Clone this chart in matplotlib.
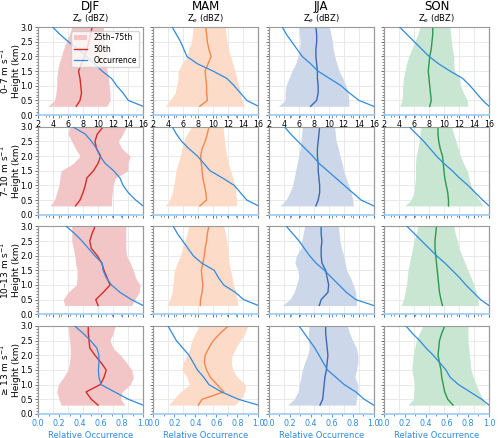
import numpy as np
import matplotlib
matplotlib.use("Agg")
import matplotlib.pyplot as plt
from matplotlib.ticker import MultipleLocator

# heights (km) of the profiles
heights = [0.3, 0.5, 0.75, 1.0, 1.25, 1.5, 1.75, 2.0, 2.25, 2.5, 2.75, 3.0]

seasons = ["DJF", "MAM", "JJA", "SON"]
wind_bins = ["0–7 m s$^{-1}$", "7–10 m s$^{-1}$", "10–13 m s$^{-1}$", "≥ 13 m s$^{-1}$"]

# Ze percentiles (dBZ), indexed [wind bin][season]
p25 = [
    [[3.3, 4.2, 4.4, 4.5, 4.5, 4.6, 4.8, 5.1, 5.4, 5.8, 6.2, 6.5],
     [3.6, 4.2, 4.9, 5.1, 5.3, 5.3, 5.8, 6.5, 6.7, 7.1, 7.2, 7.3],
     [3.3, 4.2, 4.2, 4.3, 4.7, 5.1, 5.6, 5.9, 6.1, 6.2, 6.1, 6.0],
     [4.1, 4.4, 4.5, 4.5, 4.6, 4.8, 5.0, 5.3, 5.7, 6.1, 6.5, 6.8]],
    [[3.6, 4.2, 4.5, 4.8, 4.9, 5.1, 6.7, 7.6, 7.0, 6.5, 6.0, 6.2],
     [3.6, 4.2, 4.5, 4.7, 4.9, 5.0, 5.3, 5.6, 5.8, 6.0, 6.5, 7.1],
     [3.5, 4.3, 4.8, 5.2, 5.4, 5.6, 5.8, 6.0, 6.2, 6.3, 6.4, 6.5],
     [4.8, 5.6, 6.0, 6.1, 6.2, 6.2, 6.2, 6.3, 6.5, 6.7, 6.8, 6.9]],
    [[5.6, 5.35, 6.0, 7.1, 7.2, 7.2, 7.0, 6.9, 6.7, 6.5, 6.5, 6.5],
     [3.8, 4.2, 4.5, 4.6, 4.7, 4.8, 5.2, 5.6, 5.9, 6.2, 6.5, 6.7],
     [3.8, 4.8, 5.4, 5.7, 6.0, 5.9, 5.5, 5.7, 6.3, 6.4, 6.6, 6.8],
     [4.3, 4.6, 4.8, 5.0, 5.1, 5.2, 5.4, 5.6, 5.8, 6.0, 6.3, 6.5]],
    [[5.1, 4.8, 4.5, 4.7, 5.4, 6.0, 6.2, 6.3, 6.3, 6.2, 6.1, 6.0],
     [4.0, 4.7, 5.6, 6.8, 6.5, 5.8, 6.0, 6.5, 6.9, 7.1, 7.6, 8.2],
     [4.5, 5.4, 5.9, 6.1, 6.3, 6.5, 6.8, 7.2, 7.4, 7.3, 7.3, 7.4],
     [5.2, 5.9, 6.0, 6.1, 5.9, 5.7, 5.8, 5.9, 6.1, 6.3, 6.7, 7.2]],
]
p50 = [
    [[7.1, 7.6, 7.8, 7.7, 7.6, 7.4, 7.8, 8.2, 8.5, 8.8, 9.0, 9.2],
     [8.2, 9.2, 9.1, 9.1, 9.0, 8.9, 9.3, 9.7, 9.4, 9.2, 9.1, 9.0],
     [7.6, 8.4, 8.6, 8.6, 8.5, 8.5, 8.4, 8.3, 8.3, 8.4, 8.4, 8.3],
     [8.1, 8.3, 8.2, 8.1, 8.0, 7.9, 8.0, 8.1, 8.3, 8.4, 8.5, 8.5]],
    [[7.0, 7.6, 8.0, 8.3, 8.5, 9.4, 10.0, 10.35, 9.8, 9.6, 9.9, 10.7],
     [8.2, 9.1, 9.0, 8.8, 8.6, 8.5, 8.4, 8.3, 8.5, 8.9, 9.2, 9.4],
     [8.3, 8.6, 8.8, 8.8, 8.7, 8.6, 8.6, 8.5, 8.5, 8.6, 8.7, 8.8],
     [10.6, 10.6, 10.5, 10.3, 10.1, 10.0, 9.9, 9.8, 9.5, 9.3, 9.2, 9.2]],
    [[10.0, 9.7, 10.7, 11.6, 11.2, 10.8, 10.5, 9.9, 9.1, 8.9, 9.2, 9.6],
     [8.25, 8.3, 8.5, 8.6, 8.5, 8.4, 8.6, 8.8, 8.9, 9.1, 9.2, 9.4],
     [8.75, 9.0, 9.9, 10.0, 9.8, 9.6, 9.1, 9.0, 9.0, 9.1, 9.0, 9.0],
     [9.8, 9.6, 9.4, 9.3, 9.2, 9.1, 9.0, 8.9, 8.8, 8.8, 8.9, 9.0]],
    [[10.0, 9.1, 8.4, 10.3, 10.8, 11.1, 10.4, 9.6, 8.9, 8.8, 8.7, 8.7],
     [8.0, 8.5, 11.4, 10.5, 9.6, 9.1, 8.8, 8.9, 9.4, 10.0, 10.9, 12.0],
     [8.85, 9.2, 9.3, 9.4, 9.5, 9.7, 9.8, 9.9, 9.8, 9.7, 9.6, 9.6],
     [11.2, 10.5, 10.1, 9.9, 9.7, 9.6, 9.4, 9.2, 9.3, 9.4, 9.7, 10.1]],
]
p75 = [
    [[11.2, 11.6, 11.6, 11.5, 11.4, 11.2, 11.1, 11.1, 11.0, 10.9, 10.8, 10.7],
     [14.2, 13.8, 13.6, 13.4, 13.1, 12.9, 12.6, 12.3, 12.0, 11.8, 11.7, 11.6],
     [12.7, 12.7, 12.6, 12.3, 11.9, 11.4, 11.1, 10.8, 10.6, 10.5, 10.3, 10.1],
     [13.2, 13.1, 12.6, 12.2, 12.1, 11.4, 11.3, 11.3, 11.1, 11.0, 10.9, 10.8]],
    [[11.8, 11.8, 11.9, 12.0, 12.3, 14.0, 14.0, 14.3, 13.2, 12.7, 13.3, 13.8],
     [13.1, 13.1, 13.0, 12.9, 12.6, 12.3, 12.0, 11.8, 11.6, 11.5, 11.4, 11.3],
     [13.3, 13.2, 13.0, 12.7, 12.3, 12.0, 11.8, 11.5, 11.3, 11.0, 10.9, 10.8],
     [15.3, 14.7, 14.1, 13.6, 13.3, 13.1, 12.6, 12.2, 11.9, 11.6, 11.3, 11.0]],
    [[14.5, 14.9, 15.5, 15.6, 15.0, 14.7, 14.3, 13.8, 13.7, 13.7, 13.7, 13.7],
     [13.25, 13.2, 13.0, 12.7, 12.5, 12.3, 12.1, 12.0, 11.9, 11.8, 11.6, 11.4],
     [13.7, 13.7, 13.6, 13.3, 12.9, 12.4, 12.2, 12.0, 11.7, 11.5, 11.4, 11.3],
     [14.6, 14.5, 14.3, 14.0, 13.6, 13.2, 12.8, 12.4, 12.0, 11.8, 11.5, 11.3]],
    [[13.6, 13.0, 13.2, 14.3, 14.7, 14.5, 13.8, 13.0, 12.0, 11.6, 12.0, 12.3],
     [12.9, 13.6, 14.2, 14.3, 13.2, 12.6, 12.4, 12.5, 13.0, 13.6, 14.2, 14.6],
     [13.6, 13.7, 13.9, 13.9, 13.5, 13.7, 13.9, 13.9, 13.7, 13.2, 12.8, 12.5],
     [15.6, 15.2, 14.7, 14.3, 13.9, 13.6, 13.5, 13.4, 13.3, 13.2, 13.2, 13.2]],
]
# relative occurrence (0-1), indexed [wind bin][season]
occ = [
    [[1.0, 0.86, 0.81, 0.75, 0.70, 0.61, 0.54, 0.46, 0.38, 0.29, 0.21, 0.14],
     [1.0, 0.89, 0.83, 0.77, 0.70, 0.57, 0.42, 0.32, 0.29, 0.26, 0.22, 0.18],
     [1.0, 0.86, 0.77, 0.69, 0.58, 0.47, 0.40, 0.32, 0.27, 0.22, 0.17, 0.13],
     [1.0, 0.94, 0.88, 0.82, 0.75, 0.63, 0.52, 0.43, 0.36, 0.29, 0.22, 0.15]],
    [[1.0, 0.93, 0.86, 0.81, 0.78, 0.72, 0.64, 0.59, 0.56, 0.51, 0.45, 0.33],
     [1.0, 0.89, 0.83, 0.77, 0.66, 0.54, 0.48, 0.42, 0.34, 0.27, 0.22, 0.18],
     [1.0, 0.88, 0.80, 0.72, 0.64, 0.56, 0.48, 0.42, 0.35, 0.28, 0.21, 0.15],
     [1.0, 0.94, 0.87, 0.80, 0.72, 0.65, 0.57, 0.50, 0.44, 0.38, 0.31, 0.24]],
    [[1.0, 0.89, 0.78, 0.70, 0.65, 0.62, 0.61, 0.54, 0.48, 0.42, 0.35, 0.27],
     [1.0, 0.86, 0.78, 0.67, 0.62, 0.58, 0.46, 0.38, 0.33, 0.28, 0.23, 0.19],
     [1.0, 0.83, 0.74, 0.67, 0.60, 0.53, 0.45, 0.39, 0.34, 0.29, 0.23, 0.17],
     [1.0, 0.92, 0.85, 0.78, 0.72, 0.65, 0.58, 0.50, 0.43, 0.36, 0.29, 0.22]],
    [[1.0, 0.86, 0.73, 0.60, 0.58, 0.575, 0.58, 0.58, 0.56, 0.50, 0.43, 0.35],
     [1.0, 0.81, 0.65, 0.53, 0.48, 0.42, 0.38, 0.34, 0.28, 0.22, 0.18, 0.14],
     [1.0, 0.91, 0.83, 0.72, 0.64, 0.56, 0.52, 0.48, 0.44, 0.39, 0.34, 0.29],
     [1.0, 0.93, 0.82, 0.71, 0.63, 0.59, 0.53, 0.47, 0.40, 0.34, 0.27, 0.21]],
]

fill_colors = ["#f2c6c6", "#fcdcc9", "#cdd7ea", "#c8e6d2"]
line_colors = ["#d62a2a", "#f4874e", "#3b69b5", "#2a9a4c"]
occ_color = "#2f8ae0"
tick_fs = 5.8

fig, axes = plt.subplots(4, 4, figsize=(5.0, 4.38), dpi=100, sharey=True)
fig.subplots_adjust(left=0.076, right=0.978, top=0.938, bottom=0.055,
                    wspace=0.098, hspace=0.133)

for r in range(4):
    for c in range(4):
        ax = axes[r, c]
        ax.fill_betweenx(heights, p25[r][c], p75[r][c], color=fill_colors[c],
                         lw=0, label="25th–75th")
        ax.plot(p50[r][c], heights, color=line_colors[c], lw=1.0, label="50th")
        ax.set_xlim(2, 16)
        ax.set_ylim(0, 3)
        ax.xaxis.set_major_locator(MultipleLocator(2))
        ax.xaxis.set_minor_locator(MultipleLocator(1))
        ax.yaxis.set_major_locator(MultipleLocator(0.5))
        ax.yaxis.set_minor_locator(MultipleLocator(0.1))
        ax.grid(True, color="#e6e6e6", lw=0.6)
        ax.set_axisbelow(True)
        ax.tick_params(labelsize=tick_fs, length=2.5, width=0.6, color="#555555", pad=1)
        ax.tick_params(which="minor", length=1.5, width=0.5, color="#555555")
        for s in ax.spines.values():
            s.set_color("#999999")
        ax.spines["bottom"].set_visible(False)

        ax2 = ax.twiny()
        ln, = ax2.plot(occ[r][c], heights, color=occ_color, lw=0.9, label="Occurrence")
        ax2.set_xlim(0, 1)
        ax2.xaxis.set_ticks_position("bottom")
        ax2.xaxis.set_label_position("bottom")
        ax2.spines["bottom"].set_color("#9cc9f2")
        ax2.spines["bottom"].set_linewidth(1.2)
        ax2.spines["top"].set_visible(False)
        for s in ["left", "right"]:
            ax2.spines[s].set_color("#999999")
        ax2.xaxis.set_major_locator(MultipleLocator(0.2))
        ax2.xaxis.set_minor_locator(MultipleLocator(0.1))
        ax2.tick_params(axis="x", labelsize=tick_fs, length=2.5, width=0.6,
                        color=occ_color, labelcolor=occ_color, pad=1)
        ax2.tick_params(axis="x", which="minor", length=1.5, color=occ_color)

        if r == 0:
            ax.text(0.5, 1.165, seasons[c], transform=ax.transAxes,
                    ha="center", va="bottom", fontsize=8.5)
            ax.text(0.5, 1.025, "Z$_e$ (dBZ)", transform=ax.transAxes,
                    ha="center", va="bottom", fontsize=6)
            ax2.tick_params(axis="x", labelbottom=False)
        else:
            ax.tick_params(axis="x", labelbottom=False)
            if r < 3:
                ax2.tick_params(axis="x", labelbottom=False)
            else:
                ax2.set_xlabel("Relative Occurrence", fontsize=6,
                               color=occ_color, labelpad=2)
                ax.tick_params(axis="x", which="both", bottom=False)
        if c == 0:
            ax.set_ylabel(wind_bins[r] + "\nHeight (km)", fontsize=6.5,
                          linespacing=1.05)
            ax.yaxis.set_label_coords(-0.165, 0.5)
        else:
            ax.tick_params(axis="y", labelleft=False)

        if r == 0 and c == 0:
            h1, l1 = ax.get_legend_handles_labels()
            ax2.legend(h1 + [ln], l1 + ["Occurrence"], loc="upper right",
                       fontsize=5.5, frameon=True, framealpha=0.8,
                       handlelength=1.8, borderpad=0.3, labelspacing=0.3,
                       bbox_to_anchor=(1.0, 1.0))

fig.savefig("out.png", dpi=100)
